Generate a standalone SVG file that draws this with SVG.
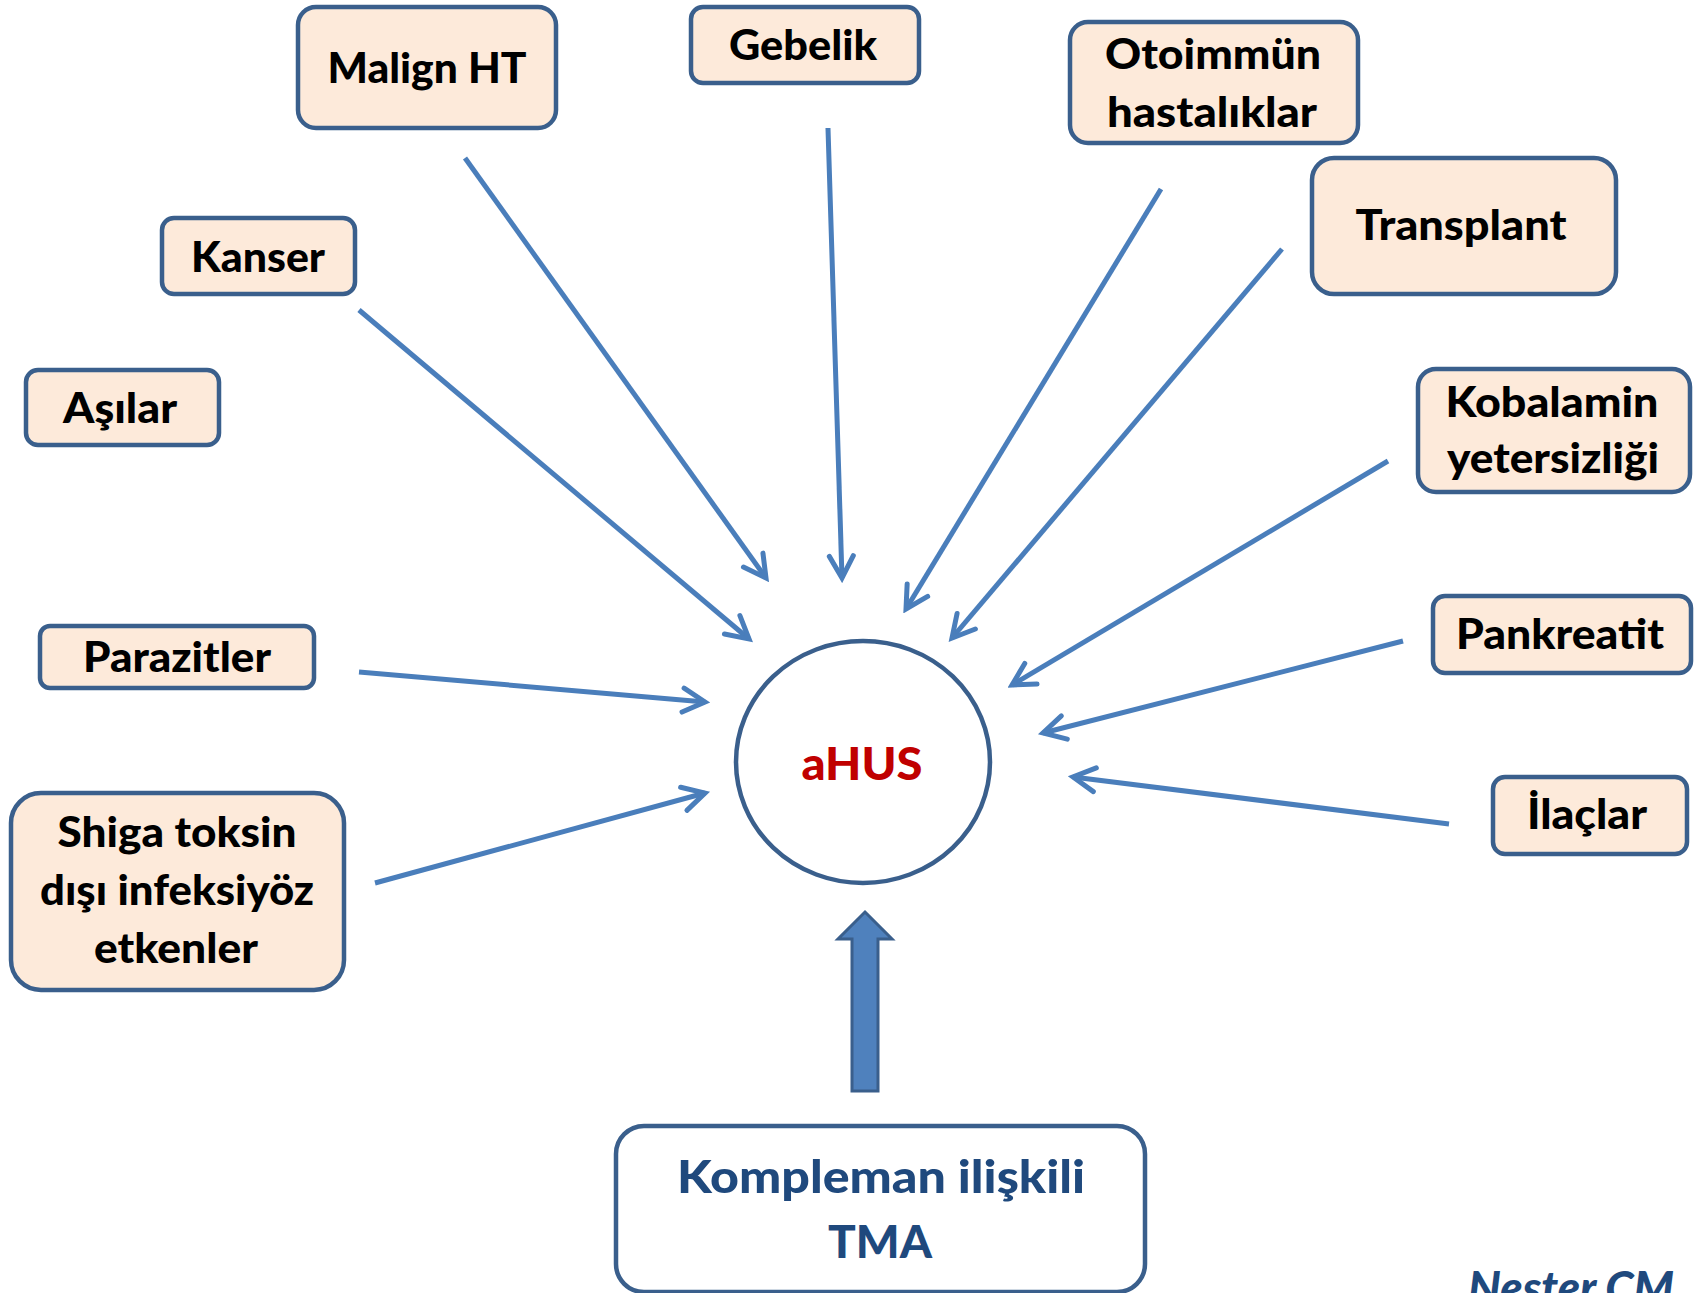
<svg xmlns="http://www.w3.org/2000/svg" width="1698" height="1293" viewBox="0 0 1698 1293">
<style>
.box{fill:#FDEADA;stroke:#3A5F8C;stroke-width:4.5}
.lbl{font-family:Lato,"Liberation Sans",sans-serif;font-weight:900;font-size:42px;fill:#000;text-anchor:middle}
.con{stroke:#4A7EBB;stroke-width:5;fill:none;marker-end:url(#ah)}
</style>
<defs>
<marker id="ah" markerUnits="userSpaceOnUse" viewBox="0 0 32 32" refX="27" refY="16" markerWidth="32" markerHeight="32" orient="auto">
<path d="M5,4 L27,16 L5,28" fill="none" stroke="#4A7EBB" stroke-width="5" stroke-linecap="round" stroke-linejoin="miter"/>
</marker>
</defs>
<rect width="1698" height="1293" fill="#fff"/>
<g id="connectors">
<line class="con" x1="465" y1="158" x2="766" y2="578"/>
<line class="con" x1="359" y1="310" x2="749" y2="639"/>
<line class="con" x1="828" y1="128" x2="842" y2="578"/>
<line class="con" x1="1161" y1="189" x2="906" y2="609"/>
<line class="con" x1="1282" y1="249" x2="952" y2="638"/>
<line class="con" x1="1388" y1="461" x2="1012" y2="685"/>
<line class="con" x1="1403" y1="641" x2="1043" y2="733"/>
<line class="con" x1="1449" y1="824" x2="1073" y2="777"/>
<line class="con" x1="359" y1="672" x2="705" y2="702"/>
<line class="con" x1="375" y1="883" x2="705" y2="793"/>
<polygon id="block-arrow" points="865,912 892,939 878,939 878,1091 852,1091 852,939 838,939" fill="#4F81BD" stroke="#3A5F8C" stroke-width="3"/>
</g>
<g id="n-malign"><rect class="box" x="298" y="7" width="258" height="121" rx="18"/><text class="lbl" x="427" y="83" textLength="199" lengthAdjust="spacingAndGlyphs">Malign HT</text></g>
<g id="n-gebelik"><rect class="box" x="691" y="7" width="228" height="76" rx="12"/><text class="lbl" x="803" y="60" textLength="148" lengthAdjust="spacingAndGlyphs">Gebelik</text></g>
<g id="n-otoimmun"><rect class="box" x="1070" y="22" width="288" height="121" rx="18"/><text class="lbl" x="1213" y="69" textLength="216" lengthAdjust="spacingAndGlyphs">Otoimmün</text><text class="lbl" x="1212" y="127" textLength="210" lengthAdjust="spacingAndGlyphs">hastalıklar</text></g>
<g id="n-transplant"><rect class="box" x="1312" y="158" width="304" height="136" rx="22"/><text class="lbl" x="1461" y="240" textLength="211" lengthAdjust="spacingAndGlyphs">Transplant</text></g>
<g id="n-kanser"><rect class="box" x="162" y="218" width="193" height="76" rx="12"/><text class="lbl" x="258" y="272" textLength="134" lengthAdjust="spacingAndGlyphs">Kanser</text></g>
<g id="n-asilar"><rect class="box" x="26" y="370" width="193" height="75" rx="12"/><text class="lbl" x="120" y="423" textLength="114" lengthAdjust="spacingAndGlyphs">Aşılar</text></g>
<g id="n-kobalamin"><rect class="box" x="1418" y="369" width="272" height="123" rx="18"/><text class="lbl" x="1552" y="417" textLength="213" lengthAdjust="spacingAndGlyphs">Kobalamin</text><text class="lbl" x="1553" y="473" textLength="212" lengthAdjust="spacingAndGlyphs">yetersizliği</text></g>
<g id="n-pankreatit"><rect class="box" x="1433" y="596" width="258" height="77" rx="12"/><text class="lbl" x="1560" y="649" textLength="208" lengthAdjust="spacingAndGlyphs">Pankreatit</text></g>
<g id="n-ilaclar"><rect class="box" x="1493" y="777" width="194" height="77" rx="12"/><text class="lbl" x="1587" y="829" textLength="120" lengthAdjust="spacingAndGlyphs">İlaçlar</text></g>
<g id="n-parazitler"><rect class="box" x="40" y="626" width="274" height="62" rx="10"/><text class="lbl" x="177" y="672" textLength="188" lengthAdjust="spacingAndGlyphs">Parazitler</text></g>
<g id="n-shiga"><rect class="box" x="11" y="793" width="333" height="197" rx="30"/><text class="lbl" x="177" y="847" textLength="239" lengthAdjust="spacingAndGlyphs">Shiga toksin</text><text class="lbl" x="177" y="905" textLength="274" lengthAdjust="spacingAndGlyphs">dışı infeksiyöz</text><text class="lbl" x="176" y="963" textLength="164" lengthAdjust="spacingAndGlyphs">etkenler</text></g>
<g id="n-ahus"><ellipse cx="863" cy="762" rx="127" ry="121" fill="#fff" stroke="#3A5F8C" stroke-width="4.5"/><text class="lbl" x="862" y="780" style="fill:#C00000;font-size:46px" textLength="121" lengthAdjust="spacingAndGlyphs">aHUS</text></g>
<g id="n-kompleman"><rect x="616" y="1126" width="529" height="166" rx="28" fill="#fff" stroke="#3A5F8C" stroke-width="4.5"/><text class="lbl" x="881" y="1193" style="fill:#1F497D;font-size:46px" textLength="408" lengthAdjust="spacingAndGlyphs">Kompleman ilişkili</text><text class="lbl" x="880" y="1258" style="fill:#1F497D;font-size:46px" textLength="104" lengthAdjust="spacingAndGlyphs">TMA</text></g>
<text x="1571" y="1304" class="lbl" style="fill:#1F497D;font-style:italic;font-size:46px" textLength="206" lengthAdjust="spacingAndGlyphs">Nester CM</text>
</svg>
